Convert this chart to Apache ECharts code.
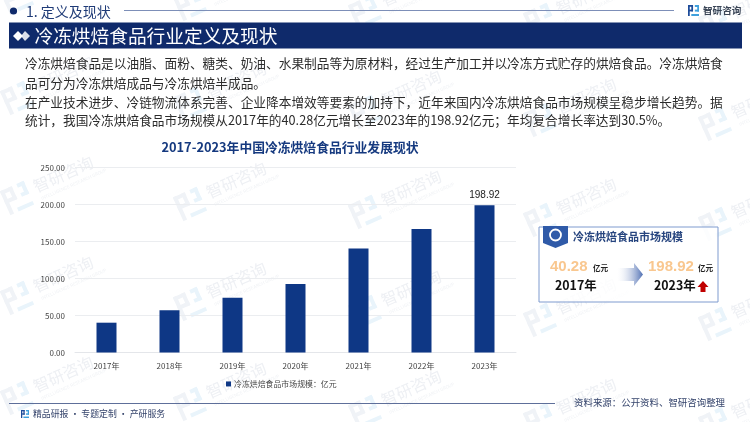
<!DOCTYPE html>
<html><head><meta charset="utf-8">
<style>html,body{margin:0;padding:0;background:#fff}#c{width:750px;height:422px}</style>
<script src="https://cdn.jsdelivr.net/npm/echarts@6/dist/echarts.min.js"></script></head>
<body><div id="c"></div>
<script>
const categories=['2017年','2018年','2019年','2020年','2021年','2022年','2023年'];
const marketSize=[40.28,57,74,92.5,140.5,167,198.92];
const seriesName='冷冻烘焙食品市场规模：亿元';
const chartTitle='2017-2023年中国冷冻烘焙食品行业发展现状';
const paragraphLines=[
'冷冻烘焙食品是以油脂、面粉、糖类、奶油、水果制品等为原材料，经过生产加工并以冷冻方式贮存的烘焙食品。冷冻烘焙食',
'品可分为冷冻烘焙成品与冷冻烘焙半成品。',
'在产业技术进步、冷链物流体系完善、企业降本增效等要素的加持下，近年来国内冷冻烘焙食品市场规模呈稳步增长趋势。据',
'统计，我国冷冻烘焙食品市场规模从2017年的40.28亿元增长至2023年的198.92亿元；年均复合增长率达到30.5%。'];
const F='"Noto Sans CJK SC","Noto Sans",sans-serif';
const L='"Liberation Sans",Arial,sans-serif';
const NAVY='#0F2A6B',BAR='#0E3785';
const g=[];
function T(x,y,text,size,fill,o){o=o||{};g.push({type:'text',z:o.z||10,silent:true,x,y,style:{text,fontSize:size,fill,fontFamily:o.font||F,fontWeight:o.w||'normal',textAlign:o.a||'left',textVerticalAlign:'middle'}});}
function R(x,y,w,h,fill,o){o=o||{};g.push({type:'rect',z:o.z||5,silent:true,shape:{x,y,width:w,height:h},style:{fill,stroke:o.stroke,lineWidth:o.lw||0}});}
function P(pts,fill,o){o=o||{};g.push({type:'polygon',z:o.z||10,silent:true,shape:{points:pts},style:{fill,opacity:o.op==null?1:o.op}});}
function logo(x,y,s,c1,c2){
  R(x,y,s*0.45,s*0.16,c1,{z:10});R(x,y,s*0.16,s,c1,{z:10});R(x,y+s*0.42,s*0.45,s*0.16,c1,{z:10});R(x+s*0.3,y,s*0.16,s*0.58,c1,{z:10});
  R(x+s*0.62,y,s*0.38,s*0.18,c2,{z:10});R(x+s*0.84,y,s*0.16,s*0.6,c2,{z:10});R(x+s*0.3,y+s*0.82,s*0.7,s*0.18,c2,{z:10});R(x+s*0.62,y+s*0.42,s*0.38,s*0.18,c2,{z:10});
}
// watermarks
const wmCols=[[17,0],[190,6],[365,14],[540,22],[715,26]];
[0,100,200,300,400].forEach(rowY=>wmCols.forEach(([x,dy])=>{
  const s=[];
  [[-13,-13,13,4],[-13,-13,4,26],[-13,-3,13,4],[-4,-13,4,14],[5,-13,8,4],[9,-13,4,14],[-4,9,17,4],[5,-3,8,4]].forEach((r,i)=>s.push({type:'rect',silent:true,shape:{x:r[0],y:r[1],width:r[2],height:r[3]},style:{fill:i>3?'#e9f4fb':'#f0f3f7'}}));
  s.push({type:'text',silent:true,x:20,y:-3,style:{text:'智研咨询',fontSize:16,fill:'#eef0f4',fontFamily:F,letterSpacing:3.4,textVerticalAlign:'middle'}});
  s.push({type:'text',silent:true,x:22,y:11,style:{text:'INTELLIGENCE RESEARCH GROUP',fontSize:4.6,fill:'#f0f2f5',fontFamily:'Roboto',textVerticalAlign:'middle'}});
  g.push({type:'group',z:1,silent:true,x:x,y:rowY-2+dy,rotation:0.42,children:s});
}));
// header
g.push({type:'circle',z:10,silent:true,shape:{cx:13.5,cy:11,r:3.6},style:{fill:NAVY}});
T(26,11.5,'1. 定义及现状',14,'#1F3B77');
g.push({type:'line',z:6,silent:true,shape:{x1:124,y1:10.5,x2:674,y2:10.5},style:{stroke:'#7D8FB8',lineWidth:1}});
logo(688,5,11,'#1E4C9A','#3FA0DC');
T(703,10.5,'智研咨询',9.6,'#3A4556',{w:'bold'});
R(9,22.5,733,26,NAVY);
P([[13,36],[18,31],[23,36],[18,41]],'#fff');P([[21,36],[25,31],[30,36],[25,41]],'#fff',{op:.85});
T(34.5,36,'冷冻烘焙食品行业定义及现状',18.7,'#fff');
// paragraph
[63,83,102,120.5].forEach((y,i)=>T(25,y,paragraphLines[i],12.7,'#2b2b2b'));
// card
R(539,227,179,75,'rgba(255,255,255,0.8)',{stroke:'#7F9BCF',lw:1,z:5});
P([[543,226],[568,226],[568,243],[555.5,248],[543,243]],'#2F5AA8');
g.push({type:'circle',z:11,silent:true,shape:{cx:555.5,cy:235,r:5.5},style:{fill:'none',stroke:'#fff',lineWidth:1.8}});
T(573,237,'冷冻烘焙食品市场规模',11,'#27457F',{w:'bold'});
T(550,267,'40.28',15,'#F9C78F',{w:'bold',font:L});
T(593,268,'亿元',7.6,'#222',{w:'bold'});
T(555,285,'2017年',12.4,'#111',{w:'bold'});
T(648,267,'198.92',15,'#F9C78F',{w:'bold',font:L});
T(698,268,'亿元',7.6,'#222',{w:'bold'});
T(654,285,'2023年',12.4,'#111',{w:'bold'});
g.push({type:'polygon',z:9,silent:true,shape:{points:[[617,268],[634,268],[634,263],[643,274.5],[634,286],[634,281],[617,281]]},style:{fill:new echarts.graphic.LinearGradient(0,0,1,0,[{offset:0,color:'rgba(255,255,255,0.1)'},{offset:1,color:'#4F6FB3'}])}});
P([[703,281],[708.5,287],[705.5,287],[705.5,292],[700.5,292],[700.5,287],[697.5,287]],'#C00000');
// footer
g.push({type:'line',z:6,silent:true,shape:{x1:9,y1:403.5,x2:555,y2:403.5},style:{stroke:'#5E6F9A',lineWidth:1}});
logo(21,410,8,'#1E4C9A','#3FA0DC');
T(33,414,'精品研报 · 专题定制 · 产研服务',8.9,'#34436B');
T(574,402,'资料来源：公开资料、智研咨询整理',9.45,'#34436B');

const chart=echarts.init(document.getElementById('c'),null,{renderer:'canvas'});
chart.setOption({
  animation:false,backgroundColor:'#fff',
  title:{text:chartTitle,left:285,top:136,textAlign:'center',textStyle:{fontFamily:F,fontSize:12.8,fontWeight:'bold',color:'#15397F'}},
  grid:{left:75,top:167.5,width:441,height:185,containLabel:false},
  legend:{show:true,left:226,top:380,padding:0,itemWidth:5,itemHeight:5,itemGap:3,icon:'rect',textStyle:{fontFamily:F,fontSize:7.9,color:'#444',padding:[0,0,0,-2]}},
  xAxis:{type:'category',data:categories,axisTick:{show:false},axisLine:{lineStyle:{color:'#E4E6EA',width:1}},axisLabel:{fontFamily:F,fontSize:8,color:'#444',margin:9}},
  yAxis:{type:'value',min:0,max:250,interval:50,axisLine:{show:false},axisTick:{show:false},splitLine:{lineStyle:{color:'#EBEDF0',width:1}},axisLabel:{fontFamily:F,fontSize:8,color:'#444',margin:10,formatter:v=>v.toFixed(2)}},
  series:[{name:seriesName,type:'bar',z:3,data:marketSize,barWidth:20,itemStyle:{color:BAR},
    label:{show:true,position:'top',distance:5,fontFamily:L,fontSize:10,color:'#222',formatter:p=>p.dataIndex===categories.length-1?p.value.toFixed(2):''}}],
  graphic:{elements:g}
});
</script></body></html>
